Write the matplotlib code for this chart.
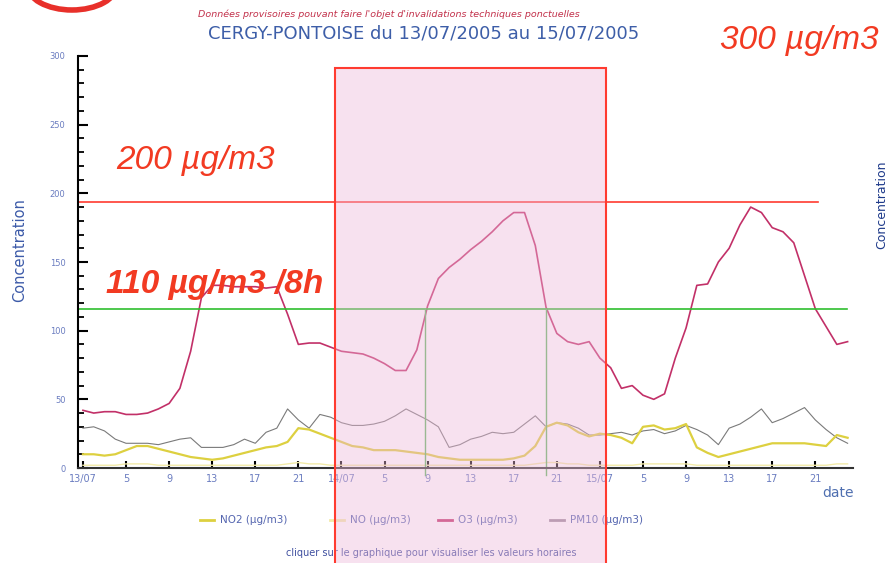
import matplotlib
matplotlib.use('Agg')
import matplotlib.pyplot as plt
from matplotlib.patches import Rectangle, Arc
from matplotlib.ticker import MultipleLocator

# hourly values, 13/07/2005 01h -> 15/07/2005 24h (hour index 1..72)
hours = list(range(1, 73))

o3 = [42, 40, 41, 41, 39, 39, 40, 43, 47, 58, 85, 124, 133, 133, 132, 132, 132, 131,
      132, 112, 90, 91, 91, 88, 85, 84, 83, 80, 76, 71, 71, 86, 118, 138, 146, 152,
      159, 165, 172, 180, 186, 186, 162, 117, 98, 92, 90, 92, 80, 73, 58, 60, 53, 50,
      54, 80, 102, 133, 134, 150, 160, 177, 190, 186, 175, 172, 164, 140, 116, 103, 90, 92]

pm10 = [29, 30, 27, 21, 18, 18, 18, 17, 19, 21, 22, 15, 15, 15, 17, 21, 18, 26,
        29, 43, 35, 29, 39, 37, 33, 31, 31, 32, 34, 38, 43, 39, 35, 30, 15, 17,
        21, 23, 26, 25, 26, 32, 38, 30, 33, 32, 29, 24, 24, 25, 26, 24, 27, 28,
        25, 27, 31, 28, 24, 17, 29, 32, 37, 43, 33, 36, 40, 44, 35, 28, 22, 18]

no2 = [10, 10, 9, 10, 13, 16, 16, 14, 12, 10, 8, 7, 6, 7, 9, 11, 13, 15,
       16, 19, 29, 28, 25, 22, 19, 16, 15, 13, 13, 13, 12, 11, 10, 8, 7, 6,
       6, 6, 6, 6, 7, 9, 16, 30, 33, 31, 26, 23, 25, 24, 22, 18, 30, 31,
       28, 29, 32, 15, 11, 8, 10, 12, 14, 16, 18, 18, 18, 18, 17, 16, 24, 22]

no = [2, 2, 2, 2, 3, 3, 3, 2, 2, 2, 2, 2, 2, 2, 2, 2, 2, 2,
      2, 3, 4, 3, 3, 2, 2, 2, 2, 2, 2, 2, 2, 2, 2, 2, 2, 2,
      2, 2, 2, 2, 2, 2, 3, 4, 4, 3, 3, 2, 2, 2, 2, 2, 3, 3,
      3, 3, 3, 2, 2, 2, 2, 2, 2, 2, 2, 2, 2, 2, 2, 2, 3, 3]

xtick_labels = ['13/07', '5', '9', '13', '17', '21',
                '14/07', '5', '9', '13', '17', '21',
                '15/07', '5', '9', '13', '17', '21']

seuil_info = 193.6      # line drawn for "200 µg/m3"
seuil_8h = 116          # line drawn for "110 µg/m3 /8h"
cross_hours = [32.75, 44.0]

W, H = 889, 563
fig = plt.figure(figsize=(W / 100, H / 100), dpi=100)
fig.patch.set_facecolor('white')


def px(x, y):
    return x / W, 1 - y / H


ax = fig.add_axes([78 / W, (H - 468) / H, (853 - 78) / W, (468 - 56) / H])
ax.set_xlim(0.54, 72.5)
ax.set_ylim(0, 300)

ax.plot(hours, no, color='#f2eaa8', lw=1.0)
ax.plot(hours, pm10, color='#7a7a7a', lw=0.8)
ax.plot(hours, no2, color='#ddd040', lw=1.6)
ax.plot(hours, o3, color='#c23068', lw=1.2)

# thresholds
ax.plot([0.54, 69.25], [seuil_info, seuil_info], color='#ff3b30', lw=1.2)
ax.plot([0.54, 71.9], [seuil_8h, seuil_8h], color='#2fbf2f', lw=1.2)
for h in cross_hours:
    ax.plot([h, h], [-5, seuil_8h], color='#5fb85f', lw=1.0, clip_on=False)

for s in ['top', 'right']:
    ax.spines[s].set_visible(False)
ax.spines['left'].set_linewidth(1.5)
ax.spines['bottom'].set_linewidth(1.5)
ax.spines['bottom'].set_color('#333333')

ax.yaxis.set_major_locator(MultipleLocator(50))
ax.yaxis.set_minor_locator(MultipleLocator(10))
ax.tick_params(axis='y', which='major', direction='in', length=7, width=1.5,
               labelsize=6, labelcolor='#6a7cc0', pad=9)
ax.tick_params(axis='y', which='minor', direction='in', length=4, width=1.3)

ax.set_xticks(list(range(1, 70, 4)))
ax.set_xticklabels(xtick_labels)
ax.tick_params(axis='x', direction='in', length=5, width=1.5,
               labelsize=7, labelcolor='#6a7cc0', pad=4)

# header
fig.text(*px(389, 14), "Données provisoires pouvant faire l'objet d'invalidations techniques ponctuelles",
         fontsize=6.8, style='italic', color='#c2304a', ha='center', va='center')
fig.text(*px(424, 34), 'CERGY-PONTOISE du 13/07/2005 au 15/07/2005',
         fontsize=13, color='#3d5ea8', ha='center', va='center')

# red logo arc cut off at the top
fig.patches.append(Arc((72, H + 15), 90, 50, theta1=180, theta2=360,
                       transform=None, color='#e8302a', lw=4))

fig.text(*px(20, 250), 'Concentration', rotation=90, fontsize=10.5,
         color='#3c5aa8', ha='center', va='center')
fig.text(*px(882, 205), 'Concentration', rotation=90, fontsize=9,
         color='#1e3a8a', ha='center', va='center')
fig.text(*px(838, 493), 'date', fontsize=10, color='#4f6fb0', ha='center', va='center')

# annotations
fig.text(*px(799, 40), '300 µg/m3', fontsize=24, style='italic', color='#f23a22',
         family='Liberation Sans', ha='center', va='center')
fig.text(*px(196, 160), '200 µg/m3', fontsize=24, style='italic', color='#f23a22',
         family='Liberation Sans', ha='center', va='center')
fig.text(*px(215, 285), '110 µg/m3 /8h', fontsize=24, style='italic', weight='bold',
         color='#f23a22', family='Liberation Sans', ha='center', va='center')

# legend
leg_items = [('NO2 (µg/m3)', '#ddd040', 200), ('NO (µg/m3)', '#f2eaa8', 330),
             ('O3 (µg/m3)', '#c23068', 438), ('PM10 (µg/m3)', '#9a8a9a', 550)]
for name, col, x0 in leg_items:
    fig.add_artist(plt.Line2D([x0 / W, (x0 + 14) / W], [1 - 520 / H] * 2, color=col, lw=2))
    fig.text((x0 + 20) / W, 1 - 520 / H, name, fontsize=7.5, color='#5566b0',
             ha='left', va='center')
fig.text(*px(431, 553), 'cliquer sur le graphique pour visualiser les valeurs horaires',
         fontsize=7, color='#4050a0', ha='center', va='center')

# pink highlight box
fig.patches.append(Rectangle((335 / W, 0), (606 - 335) / W, (H - 68) / H,
                             transform=fig.transFigure, facecolor=(0.93, 0.72, 0.85),
                             alpha=0.42, edgecolor='none', zorder=10))
fig.patches.append(Rectangle((335 / W, -0.01), (606 - 335) / W, (H - 68) / H + 0.01,
                             transform=fig.transFigure, facecolor='none',
                             edgecolor='#ff3b30', lw=1.5, zorder=11))

fig.savefig('out.png', dpi=100)
